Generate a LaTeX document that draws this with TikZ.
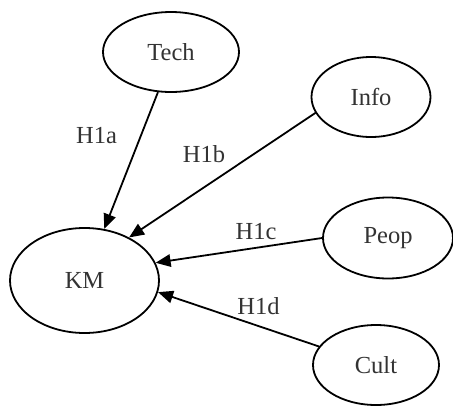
\documentclass[tikz,border=0pt]{standalone}
\usepackage{fontspec}
\setmainfont{Liberation Serif}
\usetikzlibrary{shapes.geometric,arrows.meta}
\begin{document}
\begin{tikzpicture}[x=1pt,y=-1pt,
  construct/.style={draw,ellipse,line width=1.8pt,inner sep=0pt,
    font=\fontsize{24.5}{28}\selectfont,text=black!80},
  label/.style={font=\fontsize{24.5}{28}\selectfont,inner sep=0pt,text=black!80},
  link/.style={line width=1.8pt,-{Triangle[length=15pt,width=12.5pt]}}]
  \useasboundingbox (0,0) rectangle (453,405);

  % constructs
  \node[construct,minimum width=136pt,minimum height=80pt] (tech) at (171,52) {Tech};
  \node[construct,minimum width=119pt,minimum height=80pt] (info) at (371,97) {Info};
  \node[construct,minimum width=130pt,minimum height=81pt] (peop) at (388,238) {Peop};
  \node[construct,minimum width=149pt,minimum height=105pt] (km) at (84.5,280.5) {KM};
  \node[construct,minimum width=126pt,minimum height=80pt] (cult) at (376,365) {Cult};

  % hypothesised paths
  \draw[link] (tech.252) -- (km.69);
  \draw[link] (info.196) -- (km.44);
  \draw[link] (peop.180) -- (km.14);
  \draw[link] (cult.162) -- (km.-9);

  % path labels
  \node[label] (h1a) at (96.5,136) {H1a};
  \node[label] (h1b) at (204,154) {H1b};
  \node[label] (h1c) at (256,232) {H1c};
  \node[label] (h1d) at (258.5,306) {H1d};
\end{tikzpicture}
\end{document}
